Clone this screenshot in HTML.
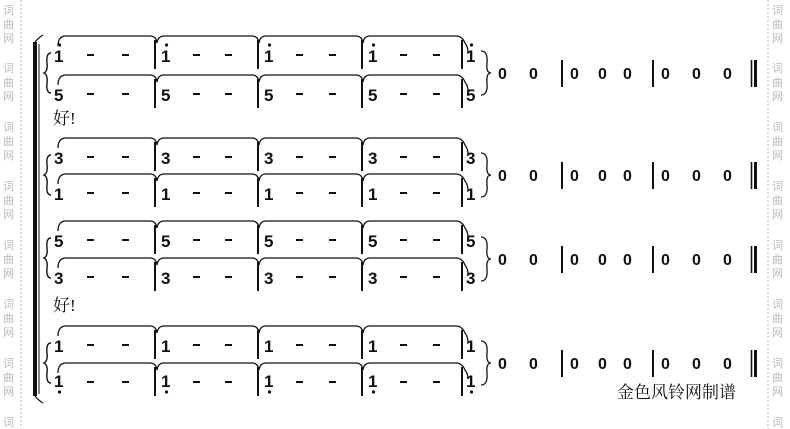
<!DOCTYPE html>
<html><head><meta charset="utf-8"><style>
html,body{margin:0;padding:0;background:#fff;}
svg{display:block;}
.n{font-family:"Liberation Sans",sans-serif;font-weight:bold;font-size:17px;fill:#111;}
.z{font-family:"Liberation Sans",sans-serif;font-weight:bold;font-size:16px;fill:#111;}
.w{font-family:"Liberation Sans","Noto Sans CJK SC",sans-serif;font-size:11px;fill:#bbb;}
.c{font-family:"Liberation Serif","Noto Serif CJK SC",serif;font-size:17px;fill:#111;}
</style></head><body>
<svg width="790" height="429" viewBox="0 0 790 429" xmlns="http://www.w3.org/2000/svg">
<defs>
<g id="row" fill="none" stroke="#111">
 <path d="M58,-9 Q58,-19 66,-19 L150,-19 Q156,-19 157,-12 Q158,-19 164,-19 L252,-19 Q258,-19 259,-12 Q260,-19 266,-19 L356,-19 Q362,-19 363,-12 Q364,-19 370,-19 L456,-19 Q462,-19 465,-12 Q468,-8 468,-3" stroke-width="1.3"/>
 <g stroke-width="2"><line x1="155" y1="-15" x2="155" y2="14"/><line x1="258" y1="-15" x2="258" y2="14"/><line x1="362" y1="-15" x2="362" y2="14"/><line x1="462" y1="-15" x2="462" y2="14"/></g>
 <g stroke-width="2"><line x1="87" y1="0" x2="94" y2="0"/><line x1="122" y1="0" x2="129" y2="0"/><line x1="193" y1="0" x2="200" y2="0"/><line x1="225" y1="0" x2="232" y2="0"/><line x1="296" y1="0" x2="303" y2="0"/><line x1="329" y1="0" x2="336" y2="0"/><line x1="400" y1="0" x2="407" y2="0"/><line x1="433" y1="0" x2="440" y2="0"/></g>
</g>
<path id="lb" d="M51,0 Q46,0 47,10 Q48,18 44,20 Q48,22 47,30 Q46,40 51,40" fill="none" stroke="#111" stroke-width="1.4"/>
<g id="rgt" fill="none" stroke="#111">
 <path d="M481,-22 Q488,-22 487,-10 Q486,0 491,0 Q486,0 487,10 Q488,22 481,22" stroke-width="1.3"/>
 <line x1="562" y1="-13" x2="562" y2="14" stroke-width="2"/>
 <line x1="653" y1="-13" x2="653" y2="14" stroke-width="2"/>
 <line x1="751.5" y1="-13" x2="751.5" y2="14" stroke-width="1.6"/>
 <line x1="755.5" y1="-13" x2="755.5" y2="14" stroke-width="3"/>
</g>
</defs>
<line x1="21" y1="0" x2="21" y2="429" stroke="#bbb" stroke-dasharray="2,2"/>
<line x1="768" y1="0" x2="768" y2="429" stroke="#bbb" stroke-dasharray="2,2"/>
<g class="w">
<text x="3" y="14">词</text><text x="3" y="28">曲</text><text x="3" y="42">网</text>
<text x="3" y="72">词</text><text x="3" y="86">曲</text><text x="3" y="100">网</text>
<text x="3" y="131">词</text><text x="3" y="145">曲</text><text x="3" y="159">网</text>
<text x="3" y="190">词</text><text x="3" y="204">曲</text><text x="3" y="218">网</text>
<text x="3" y="249">词</text><text x="3" y="263">曲</text><text x="3" y="277">网</text>
<text x="3" y="308">词</text><text x="3" y="322">曲</text><text x="3" y="336">网</text>
<text x="3" y="367">词</text><text x="3" y="381">曲</text><text x="3" y="395">网</text>
<text x="3" y="426">词</text>
<text x="772" y="14">词</text><text x="772" y="28">曲</text><text x="772" y="42">网</text>
<text x="772" y="72">词</text><text x="772" y="86">曲</text><text x="772" y="100">网</text>
<text x="772" y="131">词</text><text x="772" y="145">曲</text><text x="772" y="159">网</text>
<text x="772" y="190">词</text><text x="772" y="204">曲</text><text x="772" y="218">网</text>
<text x="772" y="249">词</text><text x="772" y="263">曲</text><text x="772" y="277">网</text>
<text x="772" y="308">词</text><text x="772" y="322">曲</text><text x="772" y="336">网</text>
<text x="772" y="367">词</text><text x="772" y="381">曲</text><text x="772" y="395">网</text>
<text x="772" y="426">词</text>
</g>
<rect x="33" y="42" width="4" height="354" fill="#111"/>
<line x1="39" y1="44" x2="39" y2="394" stroke="#111" stroke-width="1"/>
<path d="M35,42 Q38,38 43,35" stroke="#111" fill="none" stroke-width="1.2"/>
<path d="M35,396 Q38,400 43,403" stroke="#111" fill="none" stroke-width="1.2"/>
<use href="#row" transform="translate(0,55)"/>
<use href="#row" transform="translate(0,94)"/>
<use href="#row" transform="translate(0,157)"/>
<use href="#row" transform="translate(0,193)"/>
<use href="#row" transform="translate(0,240)"/>
<use href="#row" transform="translate(0,277)"/>
<use href="#row" transform="translate(0,345)"/>
<use href="#row" transform="translate(0,382)"/>
<use href="#lb" transform="translate(0,53)"/>
<use href="#lb" transform="translate(0,155)"/>
<use href="#lb" transform="translate(0,238)"/>
<use href="#lb" transform="translate(0,343)"/>
<use href="#rgt" transform="translate(0,73)"/>
<use href="#rgt" transform="translate(0,175)"/>
<use href="#rgt" transform="translate(0,259)"/>
<use href="#rgt" transform="translate(0,363)"/>
<g class="n">
<text x="54" y="62">1</text><text x="161" y="62">1</text><text x="264" y="62">1</text><text x="368" y="62">1</text><text x="466" y="62">1</text>
<text x="54" y="101">5</text><text x="161" y="101">5</text><text x="264" y="101">5</text><text x="368" y="101">5</text><text x="466" y="101">5</text>
<text x="54" y="164">3</text><text x="161" y="164">3</text><text x="264" y="164">3</text><text x="368" y="164">3</text><text x="466" y="164">3</text>
<text x="54" y="200">1</text><text x="161" y="200">1</text><text x="264" y="200">1</text><text x="368" y="200">1</text><text x="466" y="200">1</text>
<text x="54" y="247">5</text><text x="161" y="247">5</text><text x="264" y="247">5</text><text x="368" y="247">5</text><text x="466" y="247">5</text>
<text x="54" y="284">3</text><text x="161" y="284">3</text><text x="264" y="284">3</text><text x="368" y="284">3</text><text x="466" y="284">3</text>
<text x="54" y="352">1</text><text x="161" y="352">1</text><text x="264" y="352">1</text><text x="368" y="352">1</text><text x="466" y="352">1</text>
<text x="54" y="387">1</text><text x="161" y="387">1</text><text x="264" y="387">1</text><text x="368" y="387">1</text><text x="466" y="387">1</text>
</g>
<g fill="#111">
<circle cx="59.5" cy="45" r="1.6"/><circle cx="166.5" cy="45" r="1.6"/><circle cx="269.5" cy="45" r="1.6"/><circle cx="373.5" cy="45" r="1.6"/><circle cx="471.5" cy="45" r="1.6"/>
<circle cx="59.5" cy="392" r="1.6"/><circle cx="166.5" cy="392" r="1.6"/><circle cx="269.5" cy="392" r="1.6"/><circle cx="373.5" cy="392" r="1.6"/><circle cx="471.5" cy="392" r="1.6"/>
</g>
<g class="z">
<text x="498" y="79">0</text><text x="529" y="79">0</text><text x="570" y="79">0</text><text x="598" y="79">0</text><text x="623" y="79">0</text><text x="661" y="79">0</text><text x="692" y="79">0</text><text x="723" y="79">0</text>
<text x="498" y="181">0</text><text x="529" y="181">0</text><text x="570" y="181">0</text><text x="598" y="181">0</text><text x="623" y="181">0</text><text x="661" y="181">0</text><text x="692" y="181">0</text><text x="723" y="181">0</text>
<text x="498" y="265">0</text><text x="529" y="265">0</text><text x="570" y="265">0</text><text x="598" y="265">0</text><text x="623" y="265">0</text><text x="661" y="265">0</text><text x="692" y="265">0</text><text x="723" y="265">0</text>
<text x="498" y="369">0</text><text x="529" y="369">0</text><text x="570" y="369">0</text><text x="598" y="369">0</text><text x="623" y="369">0</text><text x="661" y="369">0</text><text x="692" y="369">0</text><text x="723" y="369">0</text>
</g>
<text class="c" x="53" y="124">好!</text>
<text class="c" x="53" y="311">好!</text>
<text class="c" x="617" y="398">金色风铃网制谱</text>
</svg>
</body></html>
